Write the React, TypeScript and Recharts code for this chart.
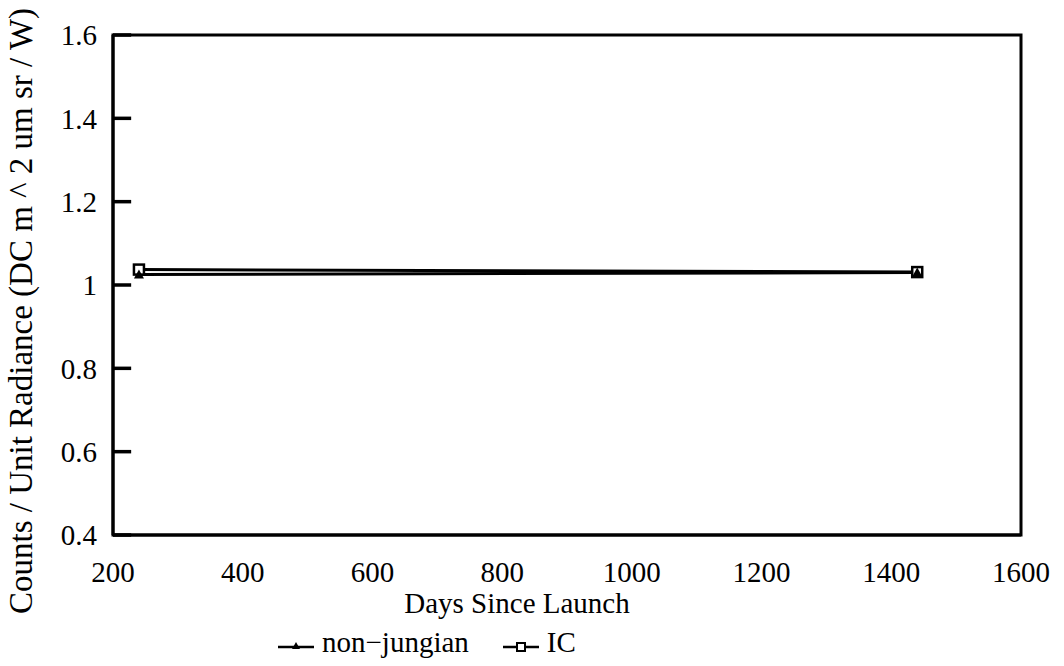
import { LineChart, Line, XAxis, YAxis, ReferenceArea, ReferenceLine, Legend } from 'recharts'

// days since launch for the two calibration passes
const days = [240, 1440]
const nonJungian = [1.025, 1.03]
const ic = [1.037, 1.031]

const xTicks = [200, 400, 600, 800, 1000, 1200, 1400, 1600]
const yTicks = [0.4, 0.6, 0.8, 1.0, 1.2, 1.4, 1.6]

const data = days.map((d, i) => ({ day: d, nonJungian: nonJungian[i], ic: ic[i] }))

const FONT = '"Liberation Serif", "Times New Roman", serif'

const TriangleDot = (props: any) => {
  const { cx, cy, index } = props
  if (cx == null || cy == null) return null
  return <path key={`t-${index}`} d={`M${cx},${cy - 5} L${cx + 5},${cy + 4} L${cx - 5},${cy + 4} Z`} fill="#000" />
}

const SquareDot = (props: any) => {
  const { cx, cy, index } = props
  if (cx == null || cy == null) return null
  return (
    <rect key={`s-${index}`} x={cx - 5} y={cy - 5} width={10} height={10} fill="#fff" stroke="#000" strokeWidth={2.5} />
  )
}

const renderLegend = () => (
  <div style={{ height: 40, position: 'relative', fontFamily: FONT, fontSize: 29, color: '#000' }}>
    <div style={{ position: 'absolute', left: 278, top: 0, display: 'flex', alignItems: 'center', gap: 8 }}>
      <svg width={36} height={20}>
        <line x1={0} y1={14} x2={36} y2={14} stroke="#000" strokeWidth={2.5} />
        <path d="M18,9 L22,16 L14,16 Z" fill="#000" />
      </svg>
      <span>non−jungian</span>
      <svg width={36} height={20} style={{ marginLeft: 26 }}>
        <line x1={0} y1={14} x2={36} y2={14} stroke="#000" strokeWidth={2.5} />
        <rect x={14} y={10} width={8} height={8} fill="#fff" stroke="#000" strokeWidth={2} />
      </svg>
      <span>IC</span>
    </div>
  </div>
)

export default function App() {
  return (
    <div style={{ position: 'absolute', left: 0, top: 0, width: 1064, height: 666, background: '#fff' }}>
      <LineChart width={1064} height={666} data={data} margin={{ top: 35, right: 43, bottom: 0, left: 0 }}>
        <XAxis
          dataKey="day"
          type="number"
          domain={[200, 1600]}
          ticks={xTicks}
          height={91}
          axisLine={{ stroke: '#000', strokeWidth: 3 }}
          tickLine={false}
          tickMargin={20}
          tick={{ fill: '#000', fontSize: 29, fontFamily: FONT }}
          label={{ value: 'Days Since Launch', position: 'insideTop', offset: 57, dx: -50, fill: '#000', fontSize: 29, fontFamily: FONT }}
        />
        <YAxis
          type="number"
          domain={[0.4, 1.6]}
          ticks={yTicks}
          width={113}
          axisLine={{ stroke: '#000', strokeWidth: 3 }}
          tickLine={false}
          tickSize={0}
          tickMargin={16}
          tickFormatter={(v: number) => (v === 1 ? '1' : v.toFixed(1))}
          tick={{ fill: '#000', fontSize: 29, fontFamily: FONT }}
          label={{
            value: 'Counts / Unit Radiance (DC m ^ 2 um sr / W)',
            angle: -90,
            position: 'insideLeft',
            offset: 0,
            dx: 20,
            dy: 26,
            fill: '#000',
            fontSize: 33,
            fontFamily: FONT,
            style: { textAnchor: 'middle' },
          }}
        />
        <ReferenceArea x1={200} x2={1600} y1={0.4} y2={1.6} fill="none" stroke="#000" strokeWidth={3} ifOverflow="visible" />
        {/* short inward tick marks on the left axis */}
        {yTicks.map((v) => (
          <ReferenceLine
            key={v}
            segment={[{ x: 200, y: v }, { x: 228, y: v }]}
            stroke="#000"
            strokeWidth={3.5}
          />
        ))}
        <Line
          type="linear"
          dataKey="ic"
          stroke="#000"
          strokeWidth={3}
          dot={<SquareDot />}
          isAnimationActive={false}
        />
        <Line
          type="linear"
          dataKey="nonJungian"
          stroke="#000"
          strokeWidth={3}
          dot={<TriangleDot />}
          isAnimationActive={false}
        />
        <Legend verticalAlign="bottom" content={renderLegend} wrapperStyle={{ left: 0, width: 1064, bottom: 0 }} />
      </LineChart>
    </div>
  )
}
